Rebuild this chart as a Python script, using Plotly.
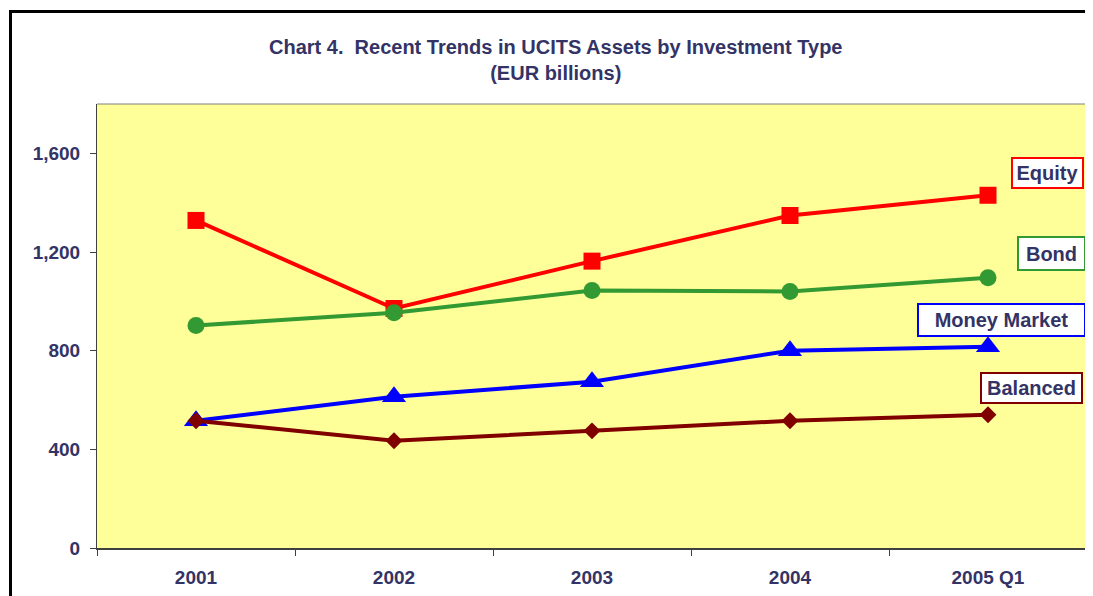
import plotly.graph_objects as go

categories = ["2001", "2002", "2003", "2004", "2005 Q1"]
equity = [1328, 971, 1163, 1348, 1430]
bond = [902, 954, 1044, 1040, 1096]
money_market = [516, 613, 674, 800, 816]
balanced = [516, 435, 475, 516, 540]
y_ticks = [0, 400, 800, 1200, 1600]

OFF = 8  # page body margin offset
W, H = 1093 - OFF, 596 - OFF
L, R, T, B = 97 - OFF, 6, 104 - OFF, 48
pw, ph = W - L - R, H - T - B

def px(x):
    return (x - OFF - L) / pw

def py(y):
    return (H + OFF - B - y) / ph

navy = "#333366"
font = "Liberation Sans, Arial, sans-serif"

fig = go.Figure()
series = [
    ("Equity", equity, "#FF0000", "square", 17, 4),
    ("Bond", bond, "#339933", "circle", 17, 4),
    ("Money Market", money_market, "#0000FF", "triangle-up", 21, 4),
    ("Balanced", balanced, "#800000", "diamond", 13, 4),
]
for name, vals, col, sym, size, lw in series:
    fig.add_trace(go.Scatter(
        x=categories, y=vals, name=name, mode="lines+markers",
        line=dict(color=col, width=lw),
        marker=dict(symbol=sym, size=size, color=col, line=dict(width=0)),
    ))

# label boxes: text, colour, centre x, centre y, box width, box height (reference px)
labels = [
    ("Equity", "#FF0000", 1047, 173, 73, 32),
    ("Bond", "#339933", 1051.5, 253.5, 69, 35),
    ("Money Market", "#0000FF", 1001.5, 320, 169, 34),
    ("Balanced", "#800000", 1031.5, 388, 103, 32),
]
annotations = []
for text, col, xc, yc, bw, bh in labels:
    annotations.append(dict(
        text="<b>%s</b>" % text, xref="paper", yref="paper",
        x=px(xc), y=py(yc), xanchor="center", yanchor="middle",
        width=bw - 6, height=bh - 6,
        showarrow=False, bgcolor="white", bordercolor=col, borderwidth=2,
        borderpad=1, font=dict(family=font, size=20, color=navy),
    ))
annotations.append(dict(
    text="<b>Chart 4.  Recent Trends in UCITS Assets by Investment Type</b><br><b>(EUR billions)</b>",
    xref="paper", yref="paper", x=px(556), y=py(60), xanchor="center", yanchor="middle",
    showarrow=False, font=dict(family=font, size=20, color=navy),
))

shapes = [
    dict(type="line", xref="paper", yref="paper", x0=px(10.5), x1=px(10.5), y0=py(11.5), y1=py(640),
         line=dict(color="black", width=3)),
    dict(type="line", xref="paper", yref="paper", x0=px(9), x1=px(1140), y0=py(11.5), y1=py(11.5),
         line=dict(color="black", width=3)),
    dict(type="line", xref="paper", yref="paper", x0=0, x1=1, y0=1, y1=1,
         line=dict(color="#808080", width=1)),
    dict(type="line", xref="paper", yref="paper", x0=1, x1=1, y0=0, y1=1,
         line=dict(color="#808080", width=1)),
]

fig.update_layout(
    width=W, height=H,
    margin=dict(l=L, r=R, t=T, b=B),
    paper_bgcolor="white", plot_bgcolor="#FFFF99",
    showlegend=False,
    annotations=annotations, shapes=shapes,
    font=dict(family=font, color=navy),
)
fig.update_xaxes(
    type="category", range=[-0.5, 4.5], tickson="boundaries",
    ticks="outside", ticklen=6, tickcolor="#404040",
    showline=True, linecolor="#404040", linewidth=2, showgrid=False,
    tickfont=dict(family=font, size=19, color=navy), tickprefix="<b>", ticksuffix="</b>",
    ticklabelstandoff=11,
)
fig.update_yaxes(
    range=[0, 1800], tickvals=y_ticks, ticktext=["<b>{:,}</b>".format(v) for v in y_ticks],
    ticks="outside", ticklen=6, tickcolor="#404040",
    showline=True, linecolor="#404040", linewidth=1, showgrid=False, zeroline=False,
    tickfont=dict(family=font, size=19, color=navy), ticklabelstandoff=6,
)
fig.write_html("out.html")
